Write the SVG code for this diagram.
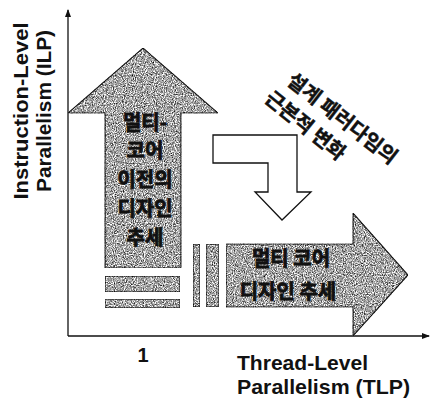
<svg xmlns="http://www.w3.org/2000/svg" width="431" height="398" viewBox="0 0 431 398">
<style>
.g{fill:#fff;stroke:#222;stroke-width:1.2;filter:url(#grain)}
.w{fill:#fff;stroke:#111;stroke-width:1.3}
.ax{stroke:#111;stroke-width:1.3;fill:none}
.k{font-family:"Noto Sans CJK KR","Noto Sans",sans-serif;font-weight:bold;font-size:20px;fill:#111;stroke:#111;stroke-width:0.8;text-anchor:middle}
.r{font-size:20px;stroke-width:0.5}
.e{font-family:"Liberation Sans",Arial,sans-serif;font-weight:bold;font-size:21px;fill:#111}
</style>
<defs>
<marker id="ah" markerWidth="8" markerHeight="8" refX="7" refY="4" orient="auto" markerUnits="userSpaceOnUse">
<path d="M0,1 L8,4 L0,7 Z" fill="#111"/>
</marker>
<filter id="grain" x="0" y="0" width="1" height="1" color-interpolation-filters="sRGB">
<feTurbulence type="fractalNoise" baseFrequency="0.9" numOctaves="2" seed="3" result="n"/>
<feColorMatrix in="n" type="matrix" values="1.7 0 0 0 -0.2  1.7 0 0 0 -0.2  1.7 0 0 0 -0.2  0 0 0 0 1" result="gn"/>
<feBlend in="SourceGraphic" in2="gn" mode="multiply" result="m"/>
<feComposite in="m" in2="SourceAlpha" operator="in"/>
</filter>
</defs>
<g id="connectors">
<path class="ax" d="M68,336 L68,10" marker-end="url(#ah)"/>
<path class="ax" d="M68,336 L429,336" marker-end="url(#ah)"/>
</g>
<g id="up-arrow">
<path class="g" d="M105,268 L105,113 L68,113 L143,48 L218,113 L181,113 L181,268 Z"/>
<text class="k" x="145" y="130">멀티-</text>
<text class="k" x="145" y="158">코어</text>
<text class="k" x="145" y="187">이전의</text>
<text class="k" x="145" y="216">디자인</text>
<text class="k" x="145" y="245">추세</text>
</g>
<g id="h-bars">
<rect class="g" x="105" y="276" width="75" height="16"/>
<rect class="g" x="105" y="299" width="75" height="9"/>
</g>
<g id="v-bars">
<rect class="g" x="193" y="244" width="7" height="63"/>
<rect class="g" x="206" y="244" width="13" height="63"/>
</g>
<g id="right-arrow">
<path class="g" d="M226,244 L353,244 L353,213 L408,275 L353,336 L353,307 L226,307 Z"/>
<text class="k" x="291" y="266">멀티 코어</text>
<text class="k" x="288" y="299">디자인 추세</text>
</g>
<g id="bent-arrow">
<path class="w" d="M213,135 L297,135 L297,192 L311,192 L282,220 L255,192 L268,192 L268,163 L213,163 Z"/>
</g>
<g id="change-label">
<text class="k r" transform="translate(338,124) rotate(38)">설계 패러다임의</text>
<text class="k r" transform="translate(301,131) rotate(39)">근본적 변화</text>
</g>
<g id="labels">
<text class="e" transform="translate(28,111) rotate(-90)" text-anchor="middle" textLength="177" lengthAdjust="spacingAndGlyphs">Instruction-Level</text>
<text class="e" transform="translate(51,111) rotate(-90)" text-anchor="middle" textLength="162" lengthAdjust="spacingAndGlyphs">Parallelism (ILP)</text>
<text class="e" x="143" y="362" text-anchor="middle" style="font-size:20px">1</text>
<text class="e" x="237" y="370" textLength="131" lengthAdjust="spacingAndGlyphs">Thread-Level</text>
<text class="e" x="237" y="394" textLength="173" lengthAdjust="spacingAndGlyphs">Parallelism (TLP)</text>
</g>
</svg>
